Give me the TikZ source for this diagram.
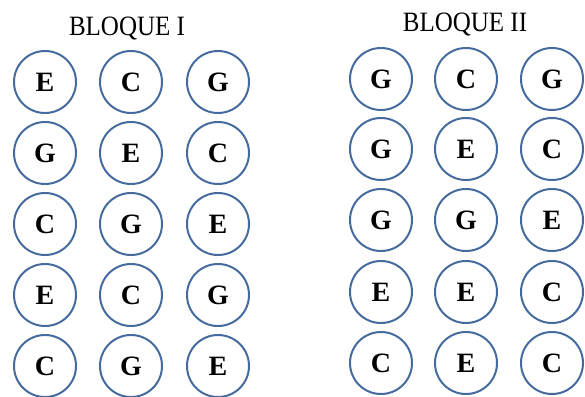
\documentclass[tikz,border=0pt]{standalone}
\usepackage{fontspec}
\setmainfont{Liberation Serif}
\begin{document}
\begin{tikzpicture}[x=1pt,y=-1pt]
  \definecolor{kBlue}{rgb}{0.27,0.42,0.62}
  \tikzset{
    cell/.style={circle,draw=kBlue,line width=2pt,minimum size=62pt,inner sep=0pt,
                 font=\fontsize{28}{28}\selectfont\bfseries},
    title/.style={anchor=base,font=\fontsize{25}{25}\selectfont,yscale=1.12,transform shape}
  }
  \useasboundingbox (0,0) rectangle (585,396);

  % Titles
  \node[title] (titleI)  at (127,35) {BLOQUE I};
  \node[title] (titleII) at (465,32) {BLOQUE II};

  % Cells - block I
  \foreach \r/\y/\a/\b/\c in {
                              1/82/E/C/G,
                              2/153/G/E/C,
                              3/224/C/G/E,
                              4/295/E/C/G,
                              5/366/C/G/E
                    }
  {
    \node[cell] (i-\r-1) at (45,\y)  {\a};
    \node[cell] (i-\r-2) at (131,\y) {\b};
    \node[cell] (i-\r-3) at (218,\y) {\c};
  }

  % Cells - block II
  \foreach \r/\y/\a/\b/\c in {
                              1/79/G/C/G,
                              2/149/G/E/C,
                              3/220/G/G/E,
                              4/292/E/E/C,
                              5/363/C/E/C
                    }
  {
    \node[cell] (ii-\r-1) at (381,\y) {\a};
    \node[cell] (ii-\r-2) at (466,\y) {\b};
    \node[cell] (ii-\r-3) at (552,\y) {\c};
  }
\end{tikzpicture}
\end{document}
